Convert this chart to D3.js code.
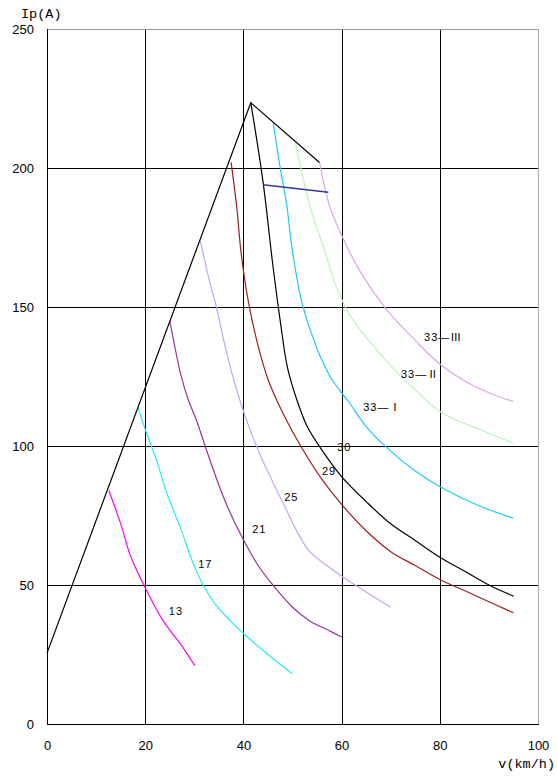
<!DOCTYPE html>
<html><head><meta charset="utf-8">
<script src="https://cdn.jsdelivr.net/npm/d3@7"></script>
<style>body{margin:0;background:#fff;} svg{display:block;}</style>
</head><body>
<svg id="chart" width="557" height="776"></svg>
<script>
// ---- data ----
const xTicks = [0, 20, 40, 60, 80, 100];
const yTicks = [0, 50, 100, 150, 200, 250];
const envelope = [[0,25.5],[41.5,223.5],[55.5,202]];
const c13 = [[12.6,84],[15.2,71],[16.9,61],[20,49],[23.7,37],[27.1,29],[30.1,21]];
const c17 = [[18.5,114],[20.3,104.5],[22.3,95],[24.4,83],[27.3,70],[29.5,59],[31.8,50],[34.3,43],[37.3,37.2],[41,31],[45,25],[50,18]];
const c21 = [[25,145],[26,136],[27.2,126],[28.7,117],[30.5,109],[32.2,100],[35,86],[37.3,76],[40.7,64],[43,57],[46,50],[50,42],[53.6,37],[57,34],[60.3,31]];
const c25 = [[31.2,174],[33,160],[34.5,150],[36,138],[38,124],[40.5,110],[43,98.5],[46,87],[48.5,78],[51,69],[53.5,62],[57,57],[61,52],[65,47.5],[70,42]];
const c29 = [[37.5,202],[38.7,185],[39.5,170],[41,152],[43,136],[45,124],[48,112],[52,99],[56,88],[60,79],[65,69.5],[70,62],[75,57],[80,52],[85,48],[90,44],[95,40]];
const c30 = [[41.5,223.5],[44,195],[46,165],[47.5,145],[49,128],[51,116],[53,107],[56,98.5],[60,89],[65,80],[70,72],[75,66],[80,60],[85,55],[90,50],[95,46]];
const c33I = [[46.1,216],[47.5,200],[48.8,187],[50,170],[52,151],[55,135],[58,124],[61.4,116],[65,107],[69.2,99.4],[75,91],[80.4,85],[88,78.5],[95,74]];
const c33II = [[50.6,209],[53.6,186],[56.6,170],[59,157],[61.7,147],[66,137],[71,127],[76,118.5],[80.4,112],[88,106],[95,101]];
const c33III = [[55.5,202],[57.6,186],[59.7,177],[63.7,163],[69.2,149],[75,138],[80,129.5],[85,123.5],[91.6,118],[95,116]];
const blueSeg = [[44,194],[57.3,191.3]];
const seriesColors = {c13:"#ff00ff", c17:"#22eef5", c21:"#993399", c25:"#c8a2f8", c29:"#9b1f1f", c30:"#000000", c33I:"#1ec8ff", c33II:"#bff2bb", c33III:"#d8a8e0"};
const curveLabels = [
  {t:"33—Ⅲ", v:76.8, i:139.2},
  {t:"33—Ⅱ", v:72.1, i:125.9},
  {t:"33—Ⅰ", v:64.4, i:114},
  {t:"30", v:59.1, i:99.6},
  {t:"29", v:56.0, i:91},
  {t:"25", v:48.3, i:81.7},
  {t:"21", v:41.8, i:70.1},
  {t:"17", v:30.8, i:57.6},
  {t:"13", v:24.8, i:40.6}
];

// ---- drawing ----
const svg = d3.select("#chart");
const x = d3.scaleLinear().domain([0,100]).range([47,538]);
const y = d3.scaleLinear().domain([0,250]).range([724,29]);

// grid
const g = svg.append("g");
g.selectAll(".vg").data(xTicks.filter(d=>d>0&&d<100)).join("line")
  .attr("x1",d=>Math.round(x(d))+0.5).attr("x2",d=>Math.round(x(d))+0.5)
  .attr("y1",y(250)).attr("y2",y(0)).attr("stroke","#000").attr("stroke-width",1);
g.selectAll(".hg").data(yTicks.filter(d=>d>0&&d<250)).join("line")
  .attr("y1",d=>Math.round(y(d))+0.5).attr("y2",d=>Math.round(y(d))+0.5)
  .attr("x1",x(0)).attr("x2",x(100)).attr("stroke","#000").attr("stroke-width",1);
// frame
g.append("line").attr("x1",x(0)).attr("x2",x(100)).attr("y1",Math.round(y(250))+0.5).attr("y2",Math.round(y(250))+0.5).attr("stroke","#999");
g.append("line").attr("x1",Math.round(x(100))+0.5).attr("x2",Math.round(x(100))+0.5).attr("y1",y(250)).attr("y2",y(0)).attr("stroke","#aaa");
g.append("line").attr("x1",Math.round(x(0))+0.5).attr("x2",Math.round(x(0))+0.5).attr("y1",y(250)).attr("y2",y(0)+0.5).attr("stroke","#000");
g.append("line").attr("x1",x(0)).attr("x2",x(100)+1).attr("y1",Math.round(y(0))+0.5).attr("y2",Math.round(y(0))+0.5).attr("stroke","#000");

// axes labels via d3 axes (no lines)
const yAxis = d3.axisLeft(y).tickValues(yTicks).tickSize(0).tickPadding(13);
const ya = svg.append("g").attr("transform",`translate(${x(0)},0)`).call(yAxis);
ya.select(".domain").remove();
ya.selectAll("text").attr("font-family","Liberation Sans, Arial, sans-serif").attr("font-size",13).attr("fill","#000");
const xAxis = d3.axisBottom(x).tickValues(xTicks).tickSize(0).tickPadding(17);
const xa = svg.append("g").attr("transform",`translate(0,${y(0)})`).call(xAxis);
xa.select(".domain").remove();
xa.selectAll("text").attr("font-family","Liberation Sans, Arial, sans-serif").attr("font-size",13).attr("fill","#000");

svg.append("text").attr("x",21).attr("y",18).text("Ip(A)")
  .attr("font-family","Liberation Mono, monospace").attr("font-size",13.5).attr("fill","#000");
svg.append("text").attr("x",555).attr("y",768).attr("text-anchor","end").text("v(km/h)")
  .attr("font-family","Liberation Mono, monospace").attr("font-size",13.5).attr("fill","#000");

// lines
const lineLin = d3.line().x(d=>x(d[0])).y(d=>y(d[1]));
const lineCurve = d3.line().x(d=>x(d[0])).y(d=>y(d[1])).curve(d3.curveCatmullRom.alpha(0.5));
const series = {c13, c17, c21, c25, c29, c30, c33I, c33II, c33III};
for (const k of Object.keys(series)) {
  svg.append("path").attr("d",lineCurve(series[k])).attr("fill","none")
    .attr("stroke",seriesColors[k]).attr("stroke-width",1.2);
}
svg.append("path").attr("d",lineLin(blueSeg)).attr("fill","none").attr("stroke","#3535a5").attr("stroke-width",1.4);
svg.append("path").attr("d",lineLin(envelope)).attr("fill","none").attr("stroke","#000").attr("stroke-width",1.2);

// curve labels
svg.selectAll(".cl").data(curveLabels).join("text")
  .attr("x",d=>x(d.v)).attr("y",d=>y(d.i)).attr("dy","0.35em")
  .attr("font-family","Liberation Sans, 'Noto Sans CJK SC', sans-serif").attr("font-size",11)
  .attr("letter-spacing",1).attr("fill","#000").text(d=>d.t);
</script>
</body></html>
